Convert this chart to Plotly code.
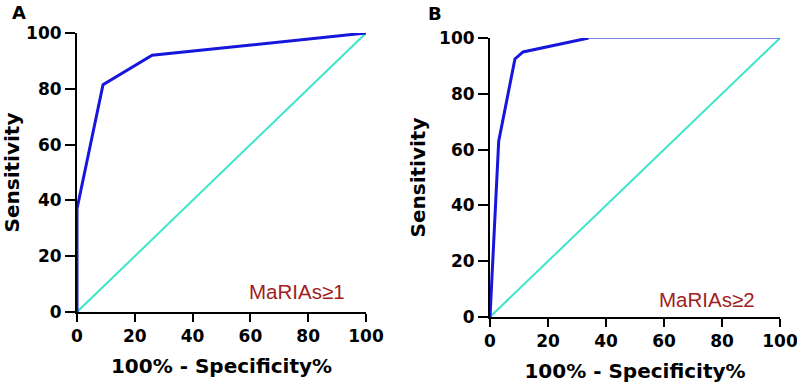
import plotly.graph_objects as go

# Panel A ROC (MaRIAs>=1)
a_fpr = [0, 0, 9, 26, 100]
a_sens = [0, 37, 81.5, 92, 100]
# Panel B ROC (MaRIAs>=2)
b_fpr = [0, 3, 8.6, 11.4, 34, 100]
b_sens = [0, 63, 92.5, 95, 100, 100]
# reference diagonal
diag = [0, 100]
ticks = [0, 20, 40, 60, 80, 100]
labels_panel = ["A", "B"]
labels_cut = ["MaRIAs≥1", "MaRIAs≥2"]

BLUE = "#1616dc"
TURQ = "#3ce6c8"
RED = "#a11d22"

fig = go.Figure()
# diagonals
fig.add_trace(go.Scatter(x=diag, y=diag, mode="lines", line=dict(color=TURQ, width=2),
                         xaxis="x", yaxis="y", cliponaxis=False, showlegend=False))
fig.add_trace(go.Scatter(x=diag, y=diag, mode="lines", line=dict(color=TURQ, width=2),
                         xaxis="x2", yaxis="y2", cliponaxis=False, showlegend=False))
# ROC curves
fig.add_trace(go.Scatter(x=a_fpr, y=a_sens, mode="lines", line=dict(color=BLUE, width=3),
                         xaxis="x", yaxis="y", cliponaxis=False, showlegend=False))
fig.add_trace(go.Scatter(x=b_fpr[-2:], y=b_sens[-2:], mode="lines", line=dict(color="#5a5ad6", width=1.5),
                         xaxis="x2", yaxis="y2", cliponaxis=False, showlegend=False))
fig.add_trace(go.Scatter(x=b_fpr[:-1], y=b_sens[:-1], mode="lines", line=dict(color=BLUE, width=3),
                         xaxis="x2", yaxis="y2", cliponaxis=False, showlegend=False))

tickfont = dict(family="DejaVu Sans", size=17, color="black", weight="bold")
titlefont = dict(family="DejaVu Sans", size=20, color="black", weight="bold")

def xax(domain, anchor):
    return dict(domain=domain, anchor=anchor, range=[0, 100], tickvals=ticks, automargin=False,
                showline=True, linecolor="black", linewidth=2, ticks="outside",
                ticklen=8, tickwidth=2, tickcolor="black", showgrid=False, zeroline=False,
                ticklabeloverflow="allow",
                tickfont=tickfont, title=dict(text="100% - Specificity%", font=titlefont, standoff=14))

def yax(domain, anchor):
    return dict(domain=domain, anchor=anchor, range=[0, 100], tickvals=ticks, automargin=False,
                showline=True, linecolor="black", linewidth=2, ticks="outside",
                ticklen=10, tickwidth=2, tickcolor="black", showgrid=False, zeroline=False,
                ticklabeloverflow="allow",
                tickfont=tickfont, title=dict(text="Sensitivity", font=titlefont, standoff=8))

fig.update_layout(
    width=797, height=388,
    margin=dict(l=0, r=0, t=0, b=0, autoexpand=False),
    paper_bgcolor="white", plot_bgcolor="white",
    xaxis=xax([77/797, 366/797], "y"),
    yaxis=yax([1-312/388, 1-33/388], "x"),
    xaxis2=xax([490/797, 780/797], "y2"),
    yaxis2=yax([1-317/388, 1-38/388], "x2"),
)

fig.add_annotation(x=19/797, y=1-12/388, xref="paper", yref="paper", text=labels_panel[0],
                   xanchor="center", yanchor="middle", showarrow=False,
                   font=dict(family="DejaVu Sans", size=18, color="black", weight="bold"))
fig.add_annotation(x=435/797, y=1-14/388, xref="paper", yref="paper", text=labels_panel[1],
                   xanchor="center", yanchor="middle", showarrow=False,
                   font=dict(family="DejaVu Sans", size=18, color="black", weight="bold"))
fig.add_annotation(x=76, y=7.5, xref="x", yref="y", text=labels_cut[0], showarrow=False,
                   xanchor="center", yanchor="middle",
                   font=dict(family="Liberation Sans", size=20.5, color=RED))
fig.add_annotation(x=74.7, y=6.1, xref="x2", yref="y2", text=labels_cut[1], showarrow=False,
                   xanchor="center", yanchor="middle",
                   font=dict(family="Liberation Sans", size=20.5, color=RED))

fig.write_html("out.html", config={"displayModeBar": False},
               post_script="document.body.style.margin='0';document.body.style.overflow='hidden';")
